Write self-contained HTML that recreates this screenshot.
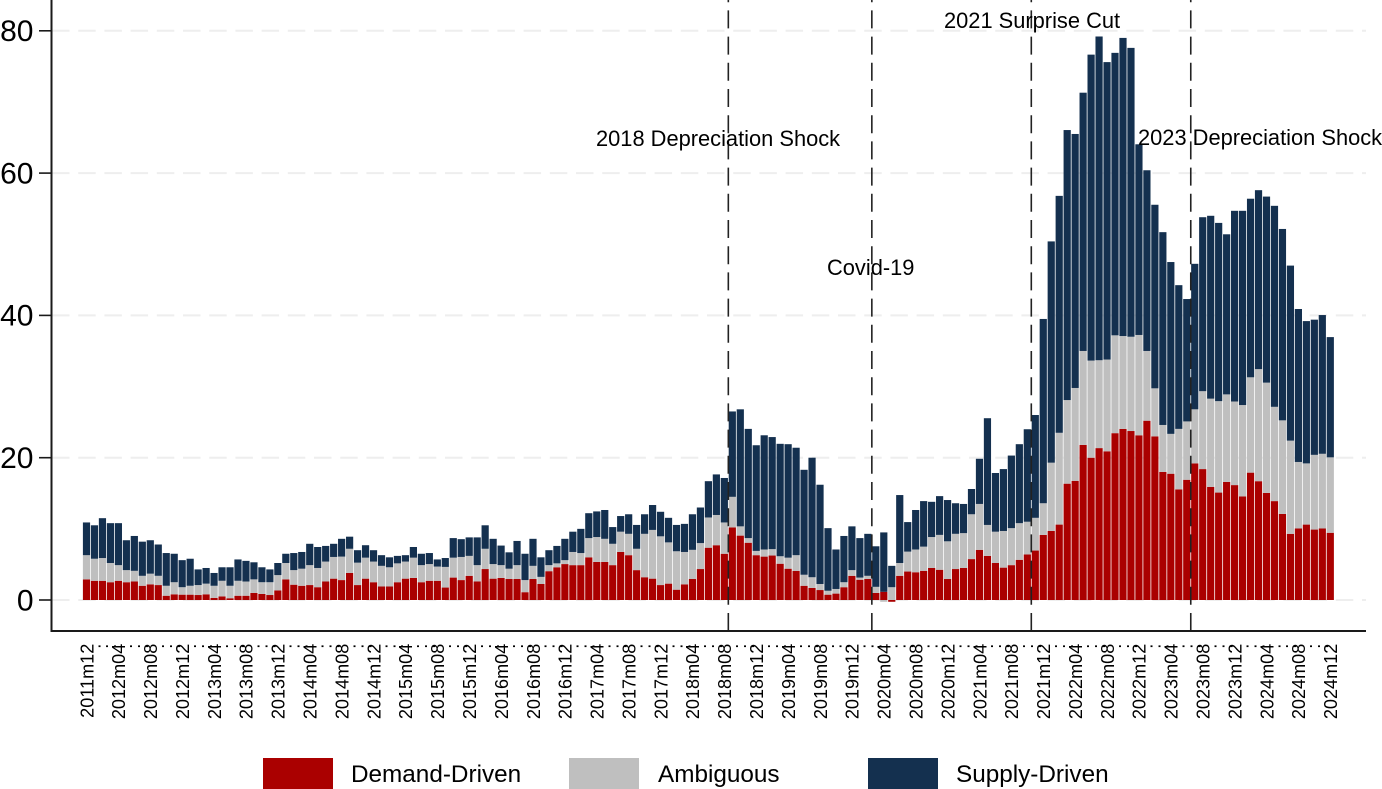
<!DOCTYPE html>
<html lang="en">
<head>
<meta charset="utf-8">
<title>Demand and supply driven inflation decomposition</title>
<style>
  html, body { margin: 0; padding: 0; background: #fff; }
  body { width: 1382px; height: 789px; overflow: hidden; }
  svg { display: block; font-family: "Liberation Sans", Arial, sans-serif; }
</style>
</head>
<body>
<svg id="chart" xmlns="http://www.w3.org/2000/svg" width="1382" height="789" viewBox="0 0 1382 789">
  <rect x="0" y="0" width="1382" height="789" fill="#ffffff"></rect>
  <g id="grid"></g>
  <g id="bars"></g>
  <g id="events"></g>
  <g id="axes"></g>
  <g id="annotations"></g>
  <g>
    <rect x="263" y="758" width="70" height="31" fill="#aa0000"></rect>
    <text x="351" y="782" font-size="24.3" fill="#000">Demand-Driven</text>
    <rect x="569" y="758" width="70" height="31" fill="#bfbfbf"></rect>
    <text x="658" y="782" font-size="24.3" fill="#000">Ambiguous</text>
    <rect x="868" y="758" width="70" height="31" fill="#14304f"></rect>
    <text x="956" y="782" font-size="24.3" fill="#000">Supply-Driven</text>
  </g>
</svg>
<script>
var demand = [2.9,2.7,2.7,2.5,2.7,2.5,2.6,2.0,2.2,2.1,0.6,0.8,0.75,0.75,0.7,0.8,0.3,0.5,0.25,0.6,
0.6,1.0,0.85,0.7,1.35,2.9,2.15,2.0,2.1,1.8,2.6,3.0,2.8,3.8,2.1,3.0,2.5,1.9,1.9,2.5,
3.0,3.1,2.5,2.7,2.7,1.75,3.15,2.8,3.4,2.6,4.35,3.0,3.1,2.95,2.95,1.1,2.95,2.25,4.05,4.6,
5.05,4.9,4.9,6.0,5.35,5.35,4.9,6.75,6.3,4.2,3.2,3.0,2.1,2.3,1.45,2.2,2.95,4.35,7.35,7.7,
6.5,10.2,9.05,8.05,6.3,6.1,6.25,5.1,4.4,4.1,2.0,1.7,1.4,0.75,0.9,1.8,3.4,2.85,2.95,1.0,
1.15,-0.25,3.4,4.0,3.9,4.1,4.5,4.25,2.95,4.35,4.5,5.75,7.05,6.2,5.2,4.55,4.9,5.65,6.4,6.95,
9.15,9.7,10.6,16.35,16.75,21.8,20.0,21.35,20.9,23.45,24.05,23.75,23.15,25.2,23.0,18.0,17.75,15.55,16.9,19.2,
18.4,15.9,15.1,16.6,16.15,14.55,17.9,16.7,15.05,13.9,12.1,9.3,10.05,10.6,9.9,10.05,9.45];

var ambiguous = [3.4,3.1,3.2,2.7,2.2,1.7,1.5,1.4,1.5,1.3,1.4,1.7,1.05,1.25,1.4,1.5,1.7,2.2,1.75,2.1,
2.0,1.9,1.65,1.8,2.15,2.3,2.05,2.4,2.8,2.7,2.8,3.05,3.3,3.4,3.15,2.95,2.9,2.9,2.7,2.65,
2.4,2.85,2.4,2.35,2.0,2.9,2.8,3.25,2.8,2.3,2.85,2.05,1.8,1.45,1.95,1.7,1.85,1.0,0.85,0.55,
0.55,1.85,1.7,2.7,3.5,3.25,3.0,2.85,3.0,3.0,6.1,6.85,6.85,5.8,5.4,4.55,4.1,3.65,4.25,4.25,
4.4,4.3,1.3,0.65,0.6,1.0,0.9,1.05,1.55,2.2,1.55,1.5,0.85,0.55,0.65,0.7,0.8,0.3,0.45,0.85,
-0.25,1.8,1.8,2.8,3.2,3.4,4.35,4.9,5.3,4.95,4.9,6.3,6.45,4.35,4.4,5.15,5.2,5.15,4.6,4.6,
4.45,9.6,12.9,11.75,13.05,13.2,13.65,12.35,12.9,13.75,13.05,13.25,14.1,9.8,6.75,6.6,5.6,8.5,8.2,7.6,
10.95,12.4,12.85,12.3,11.75,12.85,13.4,15.75,15.5,13.25,13.15,13.1,9.35,8.6,10.5,10.5,10.6];

var supply = [4.6,4.7,5.6,5.6,5.9,4.2,4.9,4.8,4.7,4.4,4.6,4.0,3.8,3.8,2.2,2.2,1.8,1.9,2.6,3.0,
2.9,2.4,2.1,1.8,1.7,1.3,2.4,2.35,3.0,2.95,2.2,1.85,2.5,1.7,1.75,1.75,1.6,1.5,1.4,1.05,
0.9,1.5,1.6,1.55,1.0,1.25,2.75,2.5,2.6,3.9,3.3,3.55,2.75,2.3,3.4,3.7,3.8,2.75,2.1,2.45,
3.0,2.85,3.4,3.5,3.6,4.05,2.35,2.2,2.75,3.35,2.75,3.5,3.45,3.45,3.7,3.95,5.0,5.0,5.1,5.7,
6.25,12.0,16.45,15.35,14.85,16.05,15.75,15.8,15.95,15.1,14.75,16.8,13.95,8.8,5.55,6.5,6.15,5.55,5.9,5.7,
8.35,3.0,9.55,4.15,5.55,6.4,4.95,5.45,5.8,4.3,4.1,3.55,6.35,15.0,8.25,8.7,10.2,11.1,13.0,14.45,
25.9,31.1,33.3,37.95,35.7,36.3,43.0,45.5,41.8,39.7,41.9,40.6,26.8,25.4,25.8,27.1,24.15,20.2,17.2,20.45,
24.45,25.7,25.05,22.5,26.8,27.3,25.1,25.15,26.15,28.25,26.9,24.6,21.5,20.0,19.0,19.5,16.9];

var tickLabels = ["2011m12","2012m04","2012m08","2012m12","2013m04","2013m08","2013m12","2014m04","2014m08","2014m12",
"2015m04","2015m08","2015m12","2016m04","2016m08","2016m12","2017m04","2017m08","2017m12","2018m04",
"2018m08","2018m12","2019m04","2019m08","2019m12","2020m04","2020m08","2020m12","2021m04","2021m08",
"2021m12","2022m04","2022m08","2022m12","2023m04","2023m08","2023m12","2024m04","2024m08","2024m12"];

var yTicks = [0, 20, 40, 60, 80];

var eventPositions = [80.5, 98.5, 118.5, 138.5];

var eventLabels = ["2018 Depreciation Shock", "Covid-19", "2021 Surprise Cut", "2023 Depreciation Shock"];

var NS = "http://www.w3.org/2000/svg";
function xScale(i) { return 86.5 + i * 7.973; }
function yScale(v) { return 600 - v * 7.115; }
function make(tag, attrs, parent) {
  var el = document.createElementNS(NS, tag);
  for (var k in attrs) { el.setAttribute(k, attrs[k]); }
  parent.appendChild(el);
  return el;
}

var gridG = document.getElementById("grid");
var barsG = document.getElementById("bars");
var eventsG = document.getElementById("events");
var axesG = document.getElementById("axes");
var annG = document.getElementById("annotations");

yTicks.forEach(function (t) {
  var g = make("line", {x1: 52, x2: 1366, y1: yScale(t), y2: yScale(t), stroke: "#eeeeee", "stroke-width": 2, "stroke-dasharray": "17.5 8.7"}, gridG);
  
  
});

var BAR_W = 7.2;
var seriesStyles = [["demand", "#aa0000"], ["ambiguous", "#bfbfbf"], ["supply", "#14304f"]];
var seriesValues = [demand, ambiguous, supply];
demand.forEach(function (_, i) {
  var up = 0, down = 0;
  seriesValues.forEach(function (vals, s) {
    var v = vals[i], y0, y1;
    if (v >= 0) { y0 = up; y1 = up + v; up = y1; }
    else { y0 = down; y1 = down + v; down = y1; }
    var top = yScale(Math.max(y0, y1));
    var bottom = yScale(Math.min(y0, y1));
    var r = make("rect", {x: xScale(i) - BAR_W / 2, y: top, width: BAR_W, height: bottom - top, fill: seriesStyles[s][1]}, barsG);
    
    
  });
});

eventPositions.forEach(function (p, n) {
  var l = make("line", {x1: xScale(p), x2: xScale(p), y1: 631, y2: 0, stroke: "#222222", "stroke-width": 1.6, "stroke-dasharray": "18 8.2"}, eventsG);
  
  
});

var yAxis = make("line", {x1: 51.5, x2: 51.5, y1: 0, y2: 632, stroke: "#1a1a1a", "stroke-width": 2}, axesG);


var xAxis = make("line", {x1: 50.5, x2: 1366, y1: 631, y2: 631, stroke: "#1a1a1a", "stroke-width": 2}, axesG);



yTicks.forEach(function (t) {
  var tick = make("line", {x1: 39, x2: 51, y1: yScale(t), y2: yScale(t), stroke: "#1a1a1a", "stroke-width": 1.6}, axesG);
  
  
  var lab = make("text", {x: 33.5, y: yScale(t) + 10.3, "text-anchor": "end", "font-size": 30, fill: "#000"}, axesG);
  lab.textContent = String(t);
  
  
});

demand.forEach(function (_, i) {
  var labeled = i % 4 === 0;
  var bx = xScale(i) + (labeled ? 6.8 : 5.8);
  var by = 643.7;
  var t = make("text", {x: bx, y: by, "text-anchor": "end", "font-size": 18.1, fill: "#000", transform: "rotate(-90 " + bx + " " + by + ")"}, axesG);
  t.textContent = labeled ? tickLabels[i / 4] : ".";
  
  
});

var annX = [596, 827, 944, 1138];
var annY = [146, 275, 28, 145];
eventLabels.forEach(function (txt, n) {
  var a = make("text", {x: annX[n], y: annY[n], "font-size": 21.85, fill: "#000"}, annG);
  a.textContent = txt;
  
  
});
</script>
</body>
</html>
